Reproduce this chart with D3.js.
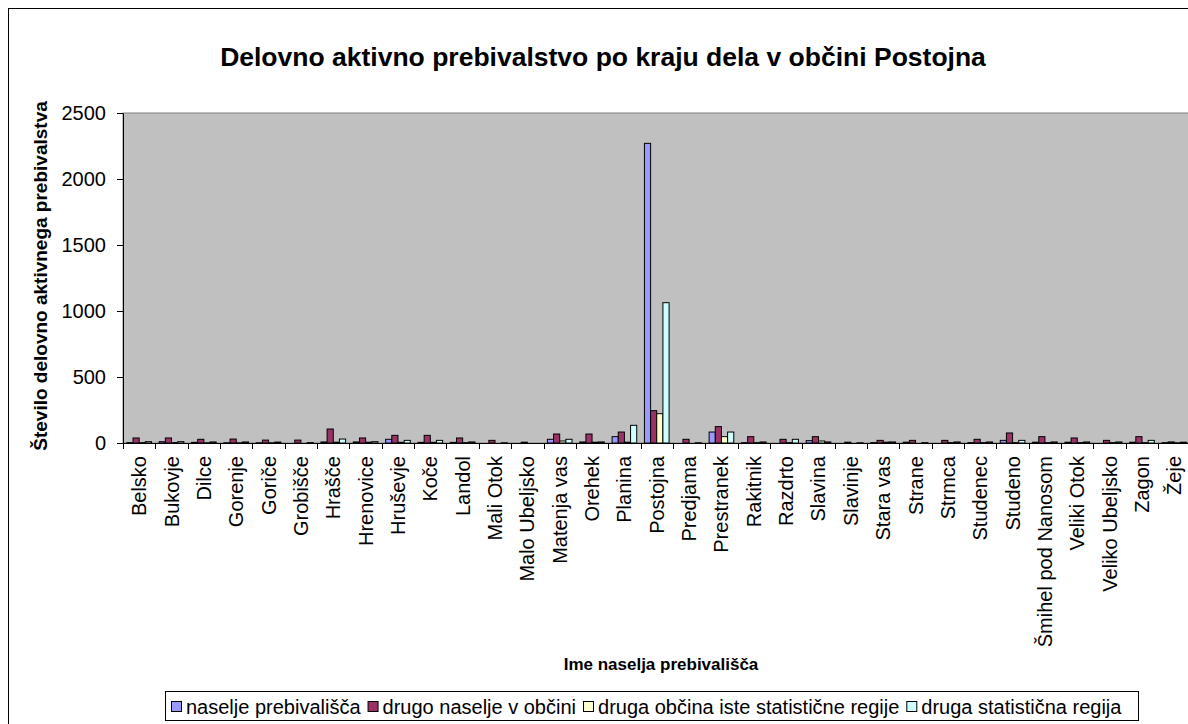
<!DOCTYPE html>
<html>
<head>
<meta charset="utf-8">
<script src="https://cdn.jsdelivr.net/npm/d3@7"></script>
<style>
  body { margin: 0; background: #fff; }
  svg { display: block; font-family: "Liberation Sans", Arial, sans-serif; }
</style>
</head>
<body>
<svg id="chart" width="1188" height="724"></svg>
<script>
var categories = ["Belsko", "Bukovje", "Dilce", "Gorenje", "Goriče", "Grobišče", "Hrašče", "Hrenovice", "Hruševje", "Koče", "Landol", "Mali Otok", "Malo Ubeljsko", "Matenja vas", "Orehek", "Planina", "Postojna", "Predjama", "Prestranek", "Rakitnik", "Razdrto", "Slavina", "Slavinje", "Stara vas", "Strane", "Strmca", "Studenec", "Studeno", "Šmihel pod Nanosom", "Veliki Otok", "Veliko Ubeljsko", "Zagon", "Žeje"];
var seriesNames = ["naselje prebivališča", "drugo naselje v občini", "druga občina iste statistične regije", "druga statistična regija"];
var naselje = [3, 10, 5, 2, 2, 0, 8, 8, 28, 5, 5, 0, 0, 28, 8, 48, 2270, 0, 83, 3, 0, 18, 0, 3, 6, 0, 3, 20, 6, 6, 0, 6, 3];
var drugoNaselje = [38, 38, 28, 30, 22, 22, 106, 38, 58, 58, 38, 20, 6, 68, 68, 83, 245, 28, 124, 48, 28, 48, 6, 20, 20, 20, 28, 76, 48, 38, 20, 48, 8];
var drugaObcina = [3, 3, 2, 2, 2, 0, 6, 6, 5, 5, 3, 0, 0, 15, 6, 6, 222, 0, 48, 3, 3, 15, 0, 6, 0, 3, 3, 3, 3, 3, 3, 3, 2];
var drugaRegija = [10, 10, 8, 8, 7, 3, 30, 10, 20, 20, 8, 2, 0, 28, 8, 134, 1063, 2, 83, 8, 28, 8, 2, 8, 3, 8, 8, 20, 8, 8, 8, 20, 6];
var yTicks = [0, 500, 1000, 1500, 2000, 2500];
var colors = ["#9999ff", "#993366", "#ffffcc", "#ccffff"];

var values = [naselje, drugoNaselje, drugaObcina, drugaRegija];
var svg = d3.select("#chart");

var plot = { left: 123, top: 113, right: 1190.5, bottom: 443 };

// outer chart border
svg.append("rect")
  .attr("x", 8.5).attr("y", 8.5)
  .attr("width", 1190).attr("height", 730)
  .attr("fill", "#fff").attr("stroke", "#000").attr("stroke-width", 1);

svg.append("text")
  .attr("x", 603).attr("y", 66)
  .attr("text-anchor", "middle")
  .style("font-size", "26.5px").style("font-weight", "bold")
  .text("Delovno aktivno prebivalstvo po kraju dela v občini Postojna");

var x0 = d3.scaleBand().domain(categories).range([plot.left, plot.right]).padding(0);
var bw = x0.bandwidth();
var barW = bw / 5.25;
var x1 = d3.scaleBand().domain(d3.range(4))
  .range([(bw - 4 * barW) / 2, (bw + 4 * barW) / 2]).padding(0);
var y = d3.scaleLinear().domain([0, 2500]).range([plot.bottom, plot.top]);

svg.append("rect")
  .attr("x", plot.left).attr("y", plot.top)
  .attr("width", plot.right - plot.left).attr("height", plot.bottom - plot.top)
  .attr("fill", "#c0c0c0").attr("stroke", "#808080");

var groups = svg.append("g").selectAll("g")
  .data(categories)
  .join("g")
  .attr("transform", function(d) { return "translate(" + x0(d) + ",0)"; });

groups.selectAll("rect")
  .data(function(d, i) { return values.map(function(arr, s) { return { s: s, v: arr[i] }; }); })
  .join("rect")
  .attr("x", function(d) { return x1(d.s); })
  .attr("width", x1.bandwidth())
  .attr("y", function(d) { return y(d.v); })
  .attr("height", function(d) { return y(0) - y(d.v); })
  .attr("fill", function(d) { return colors[d.s]; })
  .attr("stroke", "#000").attr("stroke-width", 1);

// y axis
var yAxis = svg.append("g")
  .attr("transform", "translate(" + plot.left + ",0)")
  .call(d3.axisLeft(y).tickValues(yTicks).tickFormat(d3.format("d")).tickSize(6).tickPadding(11).tickSizeOuter(0));
yAxis.select(".domain").attr("stroke", "#000");
yAxis.selectAll("text").style("font-size", "20px").attr("fill", "#000").style("font-family", "Liberation Sans, Arial, sans-serif");

// x axis line and boundary ticks
svg.append("line")
  .attr("x1", plot.left - 6).attr("x2", plot.right)
  .attr("y1", plot.bottom + 0.5).attr("y2", plot.bottom + 0.5)
  .attr("stroke", "#000");
var bounds = categories.map(function(c) { return x0(c); }).concat([plot.right]);
svg.append("g").selectAll("line")
  .data(bounds)
  .join("line")
  .attr("x1", function(d) { return Math.round(d) + 0.5; })
  .attr("x2", function(d) { return Math.round(d) + 0.5; })
  .attr("y1", plot.bottom).attr("y2", plot.bottom + 6)
  .attr("stroke", "#000");

svg.append("g").selectAll("text")
  .data(categories)
  .join("text")
  .attr("transform", function(d) { return "translate(" + (x0(d) + bw / 2) + "," + (plot.bottom + 13) + ") rotate(-90)"; })
  .attr("text-anchor", "end")
  .attr("dy", "0.35em")
  .style("font-size", "20px")
  .text(function(d) { return d; });

svg.append("text")
  .attr("transform", "translate(40," + ((plot.top + plot.bottom) / 2 - 2) + ") rotate(-90)")
  .attr("text-anchor", "middle")
  .attr("dy", "0.35em")
  .style("font-size", "19px").style("font-weight", "bold")
  .text("Število delovno aktivnega prebivalstva");

svg.append("text")
  .attr("x", 661).attr("y", 670)
  .attr("text-anchor", "middle")
  .style("font-size", "17px").style("font-weight", "bold")
  .text("Ime naselja prebivališča");

// legend, items laid out one after another
var legend = svg.append("g");
legend.append("rect")
  .attr("x", 165.5).attr("y", 691.5)
  .attr("width", 973).attr("height", 29)
  .attr("fill", "#fff").attr("stroke", "#000");
var lx = 171;
seriesNames.forEach(function(name, i) {
  var it = legend.append("g").attr("transform", "translate(" + lx + ",701)");
  it.append("rect")
    .attr("x", 0.5).attr("y", 0.5).attr("width", 10).attr("height", 10)
    .attr("fill", colors[i])
    .attr("stroke", "#000");
  var t = it.append("text")
    .attr("x", 15).attr("y", 6)
    .attr("dy", "0.35em")
    .style("font-size", "20px")
    .text(name);
  lx += 15 + t.node().getComputedTextLength() + 7;
});
</script>
</body>
</html>
